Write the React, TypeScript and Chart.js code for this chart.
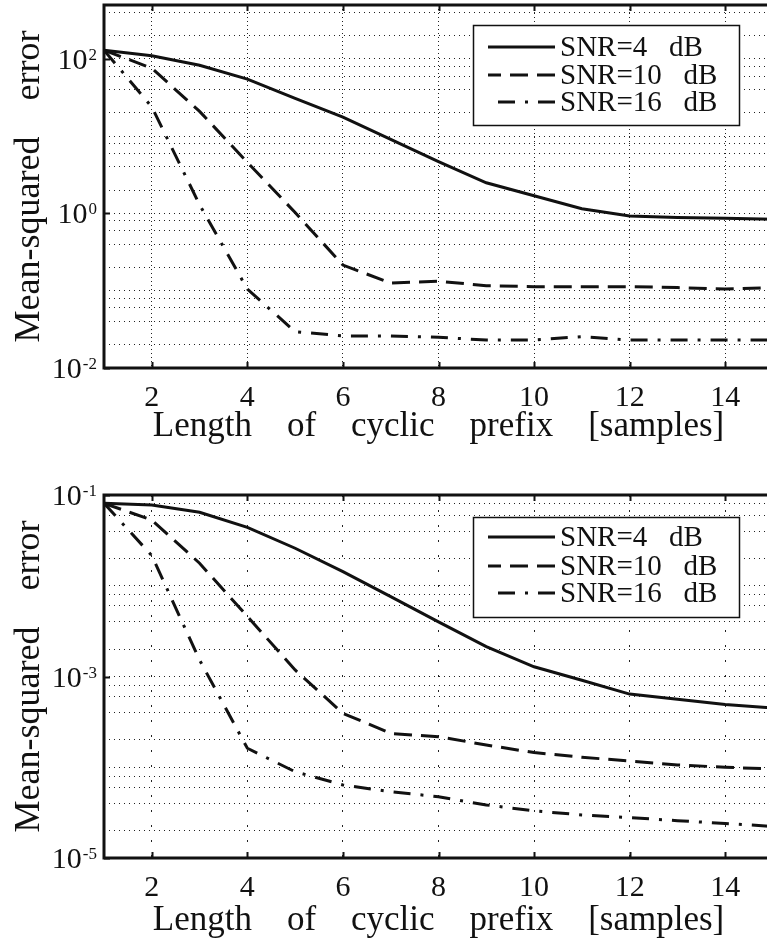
import React, { useEffect, useRef } from 'react';
import { Chart, registerables } from 'chart.js';

Chart.register(...registerables);

// ---------- data ----------
const cpLength = [1, 2, 3, 4, 5, 6, 7, 8, 9, 10, 11, 12, 13, 14, 15];
const seriesLabels = ['SNR=4 dB', 'SNR=10 dB', 'SNR=16 dB'];

const topSnr4 = [130, 110, 83, 55, 31, 17.7, 9.1, 4.7, 2.5, 1.7, 1.15, 0.93, 0.89, 0.87, 0.84];
const topSnr10 = [130, 76, 21, 4.6, 1.03, 0.215, 0.126, 0.133, 0.116, 0.113, 0.113, 0.113, 0.11, 0.105, 0.11];
const topSnr16 = [130, 24, 1.3, 0.105, 0.0295, 0.026, 0.026, 0.025, 0.023, 0.023, 0.0255, 0.023, 0.023, 0.023, 0.023];

const botSnr4 = [0.081, 0.0776, 0.0645, 0.044, 0.0259, 0.0143, 0.0076, 0.004, 0.00213, 0.00128, 0.00091, 0.00064, 0.00056, 0.00049, 0.00045];
const botSnr10 = [0.081, 0.053, 0.0177, 0.0046, 0.00118, 0.000393, 0.000236, 0.000217, 0.000176, 0.000145, 0.000129, 0.000117, 0.000106, 0.0001, 0.0000955];
const botSnr16 = [0.081, 0.0215, 0.00152, 0.000162, 0.0000892, 0.0000638, 0.0000537, 0.0000473, 0.0000384, 0.0000331, 0.0000298, 0.0000279, 0.0000258, 0.000024, 0.0000223];

const xTickValues = [2, 4, 6, 8, 10, 12, 14];
const gridMultipliers = [1, 2, 4, 6, 8];
const topYLabelExps = [2, 0, -2];
const botYLabelExps = [-1, -3, -5];
const topYRange = [0.01, 500];
const botYRange = [0.00001, 0.1];
const xTitle = 'Length    of    cyclic    prefix    [samples]';
const yTitle = 'Mean-squared    error';

// ---------- styles ----------
const FONT = "'Liberation Serif', 'DejaVu Serif', serif";
const INK = '#111';
const lineDashes = [[], [18, 9], [17, 10, 3, 10]];
const CANVAS_W = 780;

function gridTicks(min: number, max: number) {
  const out: { value: number }[] = [];
  for (let e = -8; e <= 8; e++) {
    for (const m of gridMultipliers) {
      const v = m * Math.pow(10, e);
      if (v >= min * 0.999 && v <= max * 1.001) out.push({ value: v });
    }
  }
  return out;
}

type Panel = {
  height: number;
  plotTop: number;
  plotBottom: number;
  yRange: number[];
  yExps: number[];
  series: number[][];
  vDash: number[];
  xTitlePad: number;
  legendDy: number;
  rowDy: number[];
};

const frameLegendPlugin = {
  id: 'frameLegend',
  afterDraw(chart: any) {
    const ctx = chart.ctx;
    const ca = chart.chartArea;
    const p: Panel = chart.options.plugins.frameLegend.panel;
    const xs = chart.scales.x;
    const ys = chart.scales.y;
    ctx.save();
    // inner tick marks
    ctx.strokeStyle = INK;
    ctx.lineWidth = 2;
    ctx.beginPath();
    for (const v of xTickValues) {
      const px = Math.round(xs.getPixelForValue(v)) + 0.5;
      ctx.moveTo(px, ca.bottom);
      ctx.lineTo(px, ca.bottom - 6);
      ctx.moveTo(px, ca.top);
      ctx.lineTo(px, ca.top + 6);
    }
    for (const e of p.yExps) {
      const py = Math.round(ys.getPixelForValue(Math.pow(10, e))) + 0.5;
      ctx.moveTo(ca.left, py);
      ctx.lineTo(ca.left + 6, py);
    }
    ctx.stroke();
    // frame
    ctx.lineWidth = 3;
    ctx.beginPath();
    ctx.moveTo(ca.left, ca.bottom);
    ctx.lineTo(ca.left, ca.top);
    ctx.lineTo(ca.right, ca.top);
    ctx.lineTo(ca.right, ca.bottom);
    ctx.closePath();
    ctx.stroke();

    // y tick labels 10^e
    ctx.fillStyle = INK;
    for (const e of p.yExps) {
      const py = ys.getPixelForValue(Math.pow(10, e));
      const expText = (e < 0 ? '-' : '') + Math.abs(e);
      ctx.font = `17px ${FONT}`;
      const we = ctx.measureText(expText).width;
      const xr = ca.left - 7;
      ctx.textAlign = 'left';
      ctx.textBaseline = 'alphabetic';
      ctx.fillText(expText, xr - we, py + 1);
      ctx.font = `30px ${FONT}`;
      ctx.textAlign = 'right';
      ctx.fillText('10', xr - we - 1, py + 10);
    }

    // legend
    const bx = ca.left + 369;
    const by = ca.top + p.legendDy;
    const bw = 266;
    const bh = 100;
    ctx.fillStyle = '#fff';
    ctx.fillRect(bx, by, bw, bh);
    ctx.lineWidth = 1.5;
    ctx.strokeStyle = INK;
    ctx.strokeRect(bx + 0.5, by + 0.5, bw, bh);
    chart.data.datasets.forEach((ds: any, i: number) => {
      const ry = by + p.rowDy[i];
      ctx.save();
      ctx.lineWidth = 3;
      ctx.setLineDash(ds.borderDash || []);
      ctx.beginPath();
      ctx.moveTo(bx + 82, ry);
      ctx.lineTo(bx + 15, ry);
      ctx.stroke();
      ctx.restore();
      ctx.fillStyle = INK;
      ctx.font = `29px ${FONT}`;
      ctx.textAlign = 'left';
      ctx.textBaseline = 'middle';
      ctx.fillText(ds.label.replace(' ', '   '), bx + 87, ry + 1);
    });
    ctx.restore();
  },
};

function makeConfig(p: Panel): any {
  return {
    type: 'line',
    data: {
      datasets: p.series.map((vals, i) => ({
        label: seriesLabels[i],
        data: cpLength.map((x, j) => ({ x, y: vals[j] })),
        borderColor: INK,
        borderWidth: 3,
        borderDash: lineDashes[i],
        pointRadius: 0,
        fill: false,
        tension: 0,
      })),
    },
    options: {
      responsive: false,
      animation: false,
      devicePixelRatio: 1,
      layout: { padding: { left: 0, right: CANVAS_W - 773, top: p.plotTop, bottom: 0 } },
      plugins: {
        legend: { display: false },
        tooltip: { enabled: false },
        frameLegend: { panel: p },
      },
      scales: {
        x: {
          type: 'linear',
          min: 1,
          max: 15,
          afterBuildTicks: (s: any) => {
            s.ticks = xTickValues.map((v) => ({ value: v }));
          },
          afterFit: (s: any) => {
            s.height = p.height - p.plotBottom;
          },
          grid: { color: '#222', lineWidth: 1, drawTicks: false },
          border: { display: false, dash: p.vDash },
          ticks: {
            font: { family: FONT, size: 30 },
            color: INK,
            padding: 12,
            maxRotation: 0,
            autoSkip: false,
          },
          title: {
            display: true,
            text: xTitle,
            font: { family: FONT, size: 35 },
            color: INK,
            padding: { top: 0, bottom: p.xTitlePad },
          },
        },
        y: {
          type: 'logarithmic',
          min: p.yRange[0],
          max: p.yRange[1],
          afterBuildTicks: (s: any) => {
            s.ticks = gridTicks(p.yRange[0], p.yRange[1]);
          },
          afterFit: (s: any) => {
            s.width = 104;
          },
          grid: { color: '#222', lineWidth: 1, drawTicks: false },
          border: { display: false, dash: [1, 4] },
          ticks: { display: false },
          title: {
            display: true,
            text: yTitle,
            font: { family: FONT, size: 36 },
            color: INK,
            padding: { top: 8, bottom: 0 },
          },
        },
      },
    },
    plugins: [frameLegendPlugin],
  };
}

const topPanel: Panel = {
  height: 460,
  plotTop: 5,
  plotBottom: 368,
  yRange: topYRange,
  yExps: topYLabelExps,
  series: [topSnr4, topSnr10, topSnr16],
  vDash: [1, 3],
  xTitlePad: 12,
  legendDy: 20,
  rowDy: [22, 50, 77],
};

const botPanel: Panel = {
  height: 492,
  plotTop: 35,
  plotBottom: 398,
  yRange: botYRange,
  yExps: botYLabelExps,
  series: [botSnr4, botSnr10, botSnr16],
  vDash: [2, 13],
  xTitlePad: 10,
  legendDy: 22,
  rowDy: [20, 49, 76],
};

function PanelChart({ panel, top }: { panel: Panel; top: number }) {
  const ref = useRef<HTMLCanvasElement | null>(null);
  useEffect(() => {
    if (!ref.current) return;
    const chart = new Chart(ref.current, makeConfig(panel));
    return () => chart.destroy();
  }, [panel]);
  return (
    <canvas
      ref={ref}
      width={CANVAS_W}
      height={panel.height}
      style={{ position: 'absolute', left: 0, top, width: CANVAS_W, height: panel.height, display: 'block' }}
    />
  );
}

export default function App() {
  return (
    <div
      style={{
        position: 'absolute',
        left: 0,
        top: 0,
        width: 767,
        height: 952,
        overflow: 'hidden',
        background: '#fff',
      }}
    >
      <PanelChart panel={topPanel} top={0} />
      <PanelChart panel={botPanel} top={460} />
    </div>
  );
}
